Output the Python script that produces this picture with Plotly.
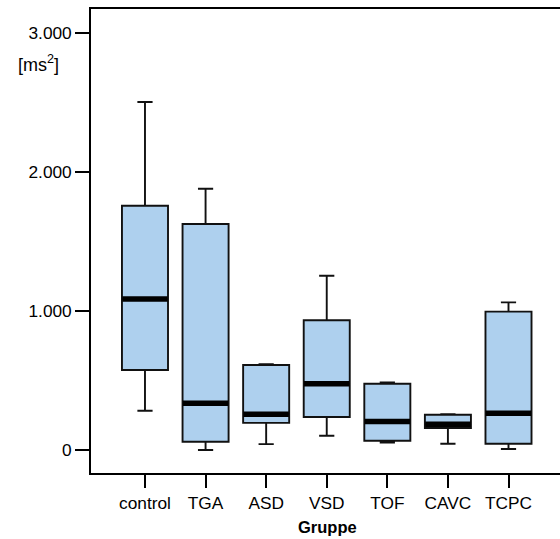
import plotly.graph_objects as go

categories = ["control", "TGA", "ASD", "VSD", "TOF", "CAVC", "TCPC"]
lower_fence = [283, 0, 42, 103, 53, 45, 7]
q1 = [576, 59, 195, 238, 67, 158, 45]
median = [1087, 336, 257, 477, 206, 185, 264]
q3 = [1759, 1627, 612, 934, 477, 254, 996]
upper_fence = [2505, 1881, 617, 1255, 487, 258, 1063]

y_tickvals = [0, 1000, 2000, 3000]
y_ticktext = ["0", "1.000", "2.000", "3.000"]

xs = list(range(len(categories)))
font_family = "Liberation Sans, Arial, sans-serif"

fig = go.Figure()
fig.add_trace(go.Box(
    x=xs, q1=q1, median=median, q3=q3,
    lowerfence=lower_fence, upperfence=upper_fence,
    width=0.76, whiskerwidth=0.33,
    fillcolor="#aed0ee",
    line=dict(color="#111111", width=1.9),
    boxpoints=False, hoverinfo="skip", showlegend=False,
))

mx, my = [], []
for i, m in zip(xs, median):
    mx += [i - 0.375, i + 0.375, None]
    my += [m, m, None]
fig.add_trace(go.Scatter(x=mx, y=my, mode="lines",
                         line=dict(color="black", width=5.5),
                         hoverinfo="skip", showlegend=False))

fig.update_layout(
    width=560, height=539,
    margin=dict(l=91, r=0, t=9, b=66),
    paper_bgcolor="white", plot_bgcolor="white",
    font=dict(family=font_family, size=17, color="black"),
    xaxis=dict(
        range=[-0.891, 6.85],
        tickmode="array", tickvals=xs, ticktext=categories,
        showline=True, linecolor="black", linewidth=1.6, mirror=True,
        ticks="outside", ticklen=13, tickwidth=1.6, tickcolor="black",
        showgrid=False, zeroline=False,
        tickfont=dict(size=17.3, color="black"),
    ),
    yaxis=dict(
        range=[-165.6, 3175],
        tickmode="array", tickvals=y_tickvals, ticktext=y_ticktext,
        showline=True, linecolor="black", linewidth=1.6,
        ticks="outside", ticklen=14, tickwidth=1.6, tickcolor="black",
        showgrid=False, zeroline=False,
        tickfont=dict(size=17.3, color="black"),
    ),
    annotations=[
        dict(text="[ms<sup>2</sup>]", xref="paper", yref="paper",
             x=(38 - 91) / 469, y=(473 - 64) / 464,
             xanchor="center", yanchor="middle", showarrow=False,
             font=dict(size=18, color="black")),
        dict(text="<b>Gruppe</b>", xref="paper", yref="paper",
             x=(327 - 91) / 469, y=(473 - 527) / 464,
             xanchor="center", yanchor="middle", showarrow=False,
             font=dict(size=16.5, color="black")),
    ],
)

fig.write_html("out.html",
               config={"displayModeBar": False},
               post_script="document.body.style.margin='0px';")
